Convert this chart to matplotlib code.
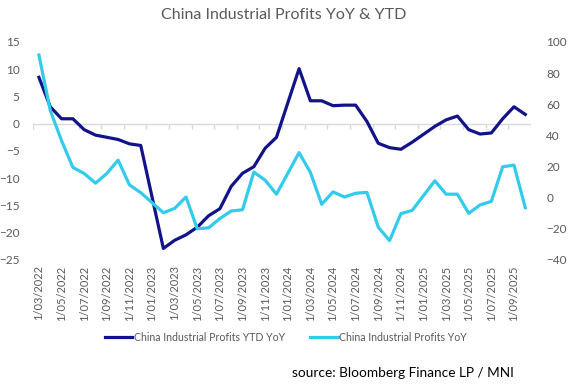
import numpy as np
import pandas as pd
import matplotlib
matplotlib.use('Agg')
import matplotlib.pyplot as plt

plt.rcParams['font.family'] = ['Lato', 'DejaVu Sans']

# monthly categories, Mar 2022 .. Oct 2025 (Januaries not reported -> NaN)
dates = pd.date_range('2022-03-01', periods=44, freq='MS')
date_labels = [f"1/{d.month:02d}/{d.year}" for d in dates]

ytd_yoy = [8.5, 3.1, 0.9, 0.9, -1.1, -2.1, -2.5, -2.9, -3.7, -4.0,
           np.nan, -22.9, -21.4, -20.4, -19.0, -16.9, -15.6, -11.5, -9.1, -7.9,
           -4.5, -2.5, np.nan, 10.1, 4.2, 4.2, 3.3, 3.4, 3.4, 0.4,
           -3.6, -4.4, -4.7, -3.4, np.nan, -0.5, 0.7, 1.4, -1.1, -1.9,
           -1.7, 0.9, 3.1, 1.7]
yoy = [91.6, 56.0, 36.6, 19.4, 15.5, 9.3, 15.5, 24.1, 8.2, 3.2,
       np.nan, -9.7, -6.9, 0.4, -20.0, -19.4, -13.4, -8.6, -7.8, 16.4,
       11.2, 2.2, np.nan, 28.9, 16.2, -4.3, 3.7, 0.4, 2.8, 3.4,
       -19.0, -27.6, -10.3, -8.2, np.nan, 10.8, 2.2, 2.2, -10.1, -4.7,
       -2.4, 19.8, 20.9, -6.5]

ytd_yoy = np.array(ytd_yoy)
yoy = np.array(yoy)
x = np.arange(len(dates))

grey = '#595959'
navy = '#12128a'
cyan = '#33cbec'

fig = plt.figure(figsize=(5.79, 3.92), dpi=100)
ax = fig.add_axes([0.0575, 0.337, 0.8595, 0.556])
ax2 = ax.twinx()

m1 = np.isfinite(ytd_yoy)
m2 = np.isfinite(yoy)
l1, = ax.plot(x[m1], ytd_yoy[m1], color=navy, lw=2.3, zorder=3,
              label='China Industrial Profits YTD YoY')
l2, = ax2.plot(x[m2], yoy[m2], color=cyan, lw=2.3, zorder=3,
               label='China Industrial Profits YoY')

ax.set_xlim(-0.5, len(dates) - 0.5)
ax.set_ylim(-25, 15)
ax.set_yticks(range(-25, 16, 5))
ax2.set_ylim(-40, 100)
ax2.set_yticks(range(-40, 101, 20))

# category axis crossing at zero with tick marks between categories
ax.axhline(0, color='#d9d9d9', lw=1, zorder=1)
ax.vlines(np.arange(-0.5, len(dates), 2), -0.9, 0, color='#d9d9d9', lw=1, zorder=1)

ax.set_xticks(x[::2])
ax.set_xticklabels(date_labels[::2], rotation=90, fontsize=8, color=grey)
ax.tick_params(axis='x', length=0, pad=4)
ax.tick_params(axis='y', length=0, pad=10, labelsize=8.5, labelcolor=grey)
ax2.tick_params(axis='y', length=0, pad=11, labelsize=8.5, labelcolor=grey)

for a in (ax, ax2):
    for s in a.spines.values():
        s.set_visible(False)

fig.text(0.49, 0.962, 'China Industrial Profits YoY & YTD', ha='center', va='center',
         fontsize=11.5, color=grey)

fig.legend(handles=[l1, l2], loc='center', bbox_to_anchor=(0.494, 0.14), ncol=2,
           frameon=False, fontsize=7.6, labelcolor=grey, handlelength=2.6,
           handletextpad=0.15, columnspacing=2.4)

fig.text(0.504, 0.048, 'source: Bloomberg Finance LP / MNI', ha='left', va='center',
         fontsize=9.8, color='black')

fig.savefig('out.png', dpi=100)
